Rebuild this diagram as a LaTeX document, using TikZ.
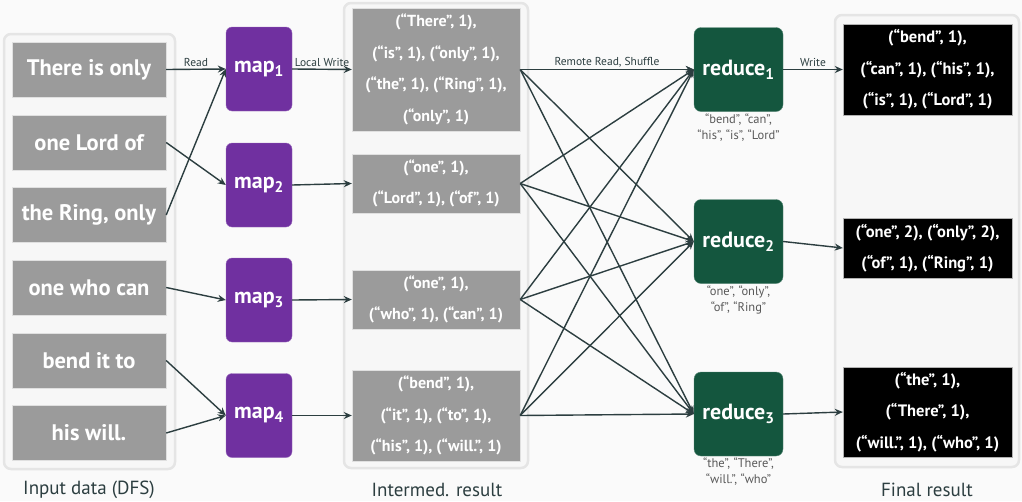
\documentclass[tikz,border=0pt]{standalone}
\usepackage{fontspec}
\setmainfont{PT Sans}
\usetikzlibrary{arrows.meta}
\definecolor{mapcol}{RGB}{112,48,160}
\definecolor{redcol}{RGB}{20,86,62}
\definecolor{linecol}{RGB}{44,62,64}
\definecolor{boxgray}{RGB}{155,155,155}
\definecolor{bgcol}{RGB}{250,250,250}

\begin{document}
\begin{tikzpicture}[x=1pt,y=-1pt,
  arr/.style={-{Stealth[length=8pt,width=7pt]},draw=linecol,line width=1.4pt},
  frame/.style={draw=black!10,line width=2.5pt,fill=black!3,rounded corners=7pt},
  input/.style={fill=boxgray,draw=black!12,text=white,font=\bfseries\fontsize{22.5}{26}\selectfont,minimum width=154pt,minimum height=55pt,inner sep=0pt},
  inter/.style={fill=boxgray,draw=black!12,text=white,font=\bfseries\fontsize{16}{31.5}\selectfont,align=center,minimum width=168pt,inner sep=0pt},
  final/.style={fill=black,draw=black!30,text=white,font=\bfseries\fontsize{16.5}{31.5}\selectfont,align=center,minimum width=169pt,inner sep=0pt},
  mapper/.style={fill=mapcol,draw=mapcol!70!white,text=white,rounded corners=6pt,font=\bfseries\fontsize{22}{26}\selectfont,minimum width=66pt,minimum height=84pt,inner sep=0pt},
  reducer/.style={fill=redcol,draw=redcol!70!white,text=white,rounded corners=7pt,font=\bfseries\fontsize{22}{26}\selectfont,minimum width=89pt,minimum height=84pt,inner sep=0pt},
  lbl/.style={text=linecol,font=\fontsize{11.5}{13}\selectfont,inner sep=2pt},
  keys/.style={text=black!65,font=\fontsize{12.5}{16}\selectfont,align=center},
  caption/.style={text=linecol,font=\fontsize{19}{22}\selectfont}]
\path[fill=bgcol,use as bounding box] (0,0) rectangle (1022,501);

% containers
\draw[frame] (4,34) rectangle (175,469);
\draw[frame] (344,3) rectangle (528,468);
\draw[frame] (835,15) rectangle (1019,467);

\node[caption] (cin) at (89,490) {Input data (DFS)};
\node[caption] (cmid) at (437,490) {Intermed. result};
\node[caption] (cfin) at (927,490) {Final result};

% input splits
\node[input] (in1) at (89,69.5) {There is only};
\node[input] (in2) at (89,142.5) {one Lord of};
\node[input] (in3) at (89,215) {the Ring, only};
\node[input] (in4) at (89,287.5) {one who can};
\node[input] (in5) at (89,360.5) {bend it to};
\node[input] (in6) at (89,433) {his will.};

% mappers
\node[mapper] (map1) at (259,69) {map\textsubscript{1}};
\node[mapper] (map2) at (259,185) {map\textsubscript{2}};
\node[mapper] (map3) at (259,300) {map\textsubscript{3}};
\node[mapper] (map4) at (259,415.5) {map\textsubscript{4}};

% intermediate
\node[inter,minimum height=123pt] (mid1) at (436,69.5) {(“There”, 1),\\(“is”, 1), (“only”, 1),\\(“the”, 1), (“Ring”, 1),\\(“only”, 1)};
\node[inter,minimum height=59pt] (mid2) at (436,183.5) {(“one”, 1),\\(“Lord”, 1), (“of”, 1)};
\node[inter,minimum height=59pt] (mid3) at (436,299.5) {(“one”, 1),\\(“who”, 1), (“can”, 1)};
\node[inter,minimum height=91pt] (mid4) at (436,415.5) {(“bend”, 1),\\(“it”, 1), (“to”, 1),\\(“his”, 1), (“will.”, 1)};

% reducers
\node[reducer] (red1) at (738.5,69.5) {reduce\textsubscript{1}};
\node[reducer] (red2) at (738.5,241.5) {reduce\textsubscript{2}};
\node[reducer] (red3) at (738.5,414) {reduce\textsubscript{3}};
\node[keys] (key1) at (738.5,128) {“bend”, “can”,\\“his”, “is”, “Lord”};
\node[keys] (key2) at (738.5,300) {“one”, “only”,\\“of”, “Ring”};
\node[keys] (key3) at (738.5,472) {“the”, “There”,\\“will.”, “who”};

% final
\node[final,minimum height=91pt] (fin1) at (927.5,69.5) {(“bend”, 1),\\(“can”, 1), (“his”, 1),\\(“is”, 1), (“Lord”, 1)};
\node[final,minimum height=60pt] (fin2) at (927.5,248) {(“one”, 2), (“only”, 2),\\(“of”, 1), (“Ring”, 1)};
\node[final,minimum height=90pt] (fin3) at (927.5,412) {(“the”, 1),\\(“There”, 1),\\(“will.”, 1), (“who”, 1)};

% read
\draw[arr] (in1.east) -- node[lbl,above] (rd) {Read} (map1.west);
\draw[arr] (in2.east) -- (map2.west);
\draw[arr] (in3.east) -- (map1.west);
\draw[arr] (in4.east) -- (map3.west);
\draw[arr] (in5.east) -- (map4.west);
\draw[arr] (in6.east) -- (map4.west);

% local write
\draw[arr] (map1.east) -- node[lbl,above] (lw) {Local Write} (mid1.west);
\foreach \i in {2,3,4}
  \draw[arr] (map\i.east) -- (mid\i.west);

% shuffle
\draw[arr] (mid1.east) -- node[lbl,above] (sh) {Remote Read, Shuffle} (red1.west);
\foreach \i in {1,...,4}
  \foreach \j in {1,2,3}
    \draw[arr] (mid\i.east) -- (red\j.west);

% write
\draw[arr] (red1.east) -- node[lbl,above] (wr) {Write} (fin1.west);
\draw[arr] (red2.east) -- (fin2.west);
\draw[arr] (red3.east) -- (fin3.west);
\end{tikzpicture}
\end{document}
